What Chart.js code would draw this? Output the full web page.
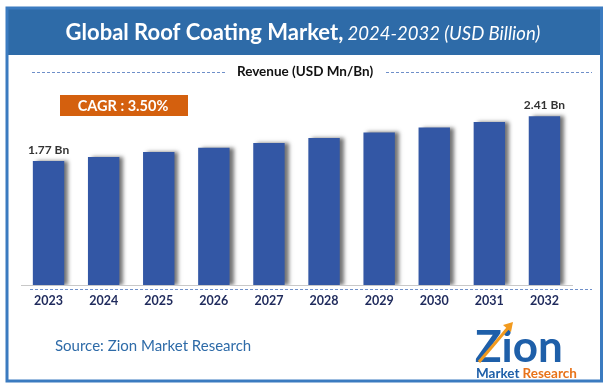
<!DOCTYPE html>
<html>
<head>
<meta charset="utf-8">
<script src="https://cdn.jsdelivr.net/npm/chart.js@4.4.1/dist/chart.umd.min.js"></script>
<style>
  html, body { margin: 0; padding: 0; background: #ffffff; }
  #wrap { width: 610px; height: 391px; position: relative; }
</style>
</head>
<body>
<div id="wrap"><canvas id="myChart" width="610" height="391"></canvas></div>
<script>
var years = ['2023', '2024', '2025', '2026', '2027', '2028', '2029', '2030', '2031', '2032'];
var revenue = [1.77, 1.83, 1.90, 1.96, 2.03, 2.10, 2.18, 2.25, 2.33, 2.41];
var valueLabels = ['1.77 Bn', '', '', '', '', '', '', '', '', '2.41 Bn'];
var titleMain = 'Global Roof Coating Market,';
var titleSub = ' 2024-2032 (USD Billion)';
var cagrText = 'CAGR : 3.50%';
var sourceText = 'Source: Zion Market Research';

var FONT = 'Lato, "Open Sans", sans-serif';

// frame, title bar, subtitle, cagr box, dashed lines, source and logo
var decor = {
    id: 'decor',
    beforeDraw: function (chart) {
        var c = chart.ctx;
        c.save();
        c.fillStyle = '#ffffff';
        c.fillRect(0, 0, chart.width, chart.height);
        // title bar
        c.fillStyle = '#2E6BA8';
        c.fillRect(6, 7, 597, 48);
        c.font = 'bold 22px ' + FONT;
        var w1 = c.measureText(titleMain).width;
        c.font = 'italic 18.5px ' + FONT;
        var w2 = c.measureText(titleSub).width;
        var x0 = 303 - (w1 + w2) / 2;
        c.fillStyle = '#ffffff';
        c.textBaseline = 'middle';
        c.textAlign = 'left';
        c.font = 'bold 22px ' + FONT;
        c.fillText(titleMain, x0, 33);
        c.font = 'italic 18.5px ' + FONT;
        c.fillText(titleSub, x0 + w1, 34);
        // frame
        c.strokeStyle = '#3B7BC0';
        c.lineWidth = 3;
        c.strokeRect(7, 8, 594.5, 373);
        // subtitle with dashed rules
        c.fillStyle = '#111111';
        c.font = 'bold 13.5px ' + FONT;
        c.textAlign = 'center';
        c.fillText('Revenue (USD Mn/Bn)', 305, 72);
        c.strokeStyle = '#6E8FC9';
        c.lineWidth = 1;
        c.setLineDash([3, 2]);
        c.beginPath();
        c.moveTo(32, 72.5); c.lineTo(225, 72.5);
        c.moveTo(386, 72.5); c.lineTo(592, 72.5);
        c.moveTo(30, 289.5); c.lineTo(592, 289.5);
        c.stroke();
        c.setLineDash([]);
        // cagr box
        c.fillStyle = '#D4600E';
        c.fillRect(60, 95, 128, 21);
        c.fillStyle = '#ffffff';
        c.font = 'bold 14.5px ' + FONT;
        c.fillText(cagrText, 123, 106);
        // source
        c.fillStyle = '#2E6BA8';
        c.font = '15px ' + FONT;
        c.textAlign = 'left';
        c.fillText(sourceText, 55, 346);
        // logo
        c.fillStyle = '#1E5FA9';
        c.font = 'bold 44px ' + FONT;
        c.textBaseline = 'alphabetic';
        c.fillText('Zion', 475, 362);
        c.strokeStyle = '#F29A1E';
        c.lineWidth = 3;
        c.beginPath();
        c.moveTo(479, 362); c.lineTo(508, 328);
        c.stroke();
        c.fillStyle = '#F29A1E';
        c.beginPath();
        c.moveTo(503, 325); c.lineTo(513, 322); c.lineTo(511, 332);
        c.fill();
        c.font = 'bold 13.5px ' + FONT;
        c.fillStyle = '#1E5FA9';
        c.fillText('Market', 476, 378);
        var mw = c.measureText('Market').width;
        c.fillStyle = '#E8731A';
        c.fillText('Research', 479 + mw, 378);
        c.restore();
    },
    beforeDatasetsDraw: function (chart) {
        var c = chart.ctx;
        c.save();
        c.shadowColor = 'rgba(0,0,0,0.55)';
        c.shadowBlur = 4;
        c.shadowOffsetX = 4;
        c.shadowOffsetY = 0;
    },
    afterDatasetsDraw: function (chart) {
        var c = chart.ctx;
        c.restore();
        c.save();
        var meta = chart.getDatasetMeta(0);
        c.fillStyle = '#333333';
        c.font = 'bold 12px ' + FONT;
        c.textAlign = 'center';
        c.textBaseline = 'bottom';
        meta.data.forEach(function (bar, i) {
            if (valueLabels[i]) {
                c.fillText(valueLabels[i], bar.x, bar.y - 5);
            }
        });
        c.restore();
    }
};

var ctx = document.getElementById('myChart').getContext('2d');
var myChart = new Chart(ctx, {
    type: 'bar',
    data: {
        labels: years,
        datasets: [{
            label: 'Revenue',
            data: revenue,
            backgroundColor: '#3357A5',
            barPercentage: 0.57,
            categoryPercentage: 1.0
        }]
    },
    options: {
        responsive: false,
        animation: false,
        layout: {
            padding: { left: 21, right: 38, top: 75, bottom: 66 }
        },
        plugins: {
            legend: { display: false },
            tooltip: { enabled: false }
        },
        scales: {
            x: {
                grid: { display: false, drawTicks: false },
                border: { display: true, color: '#C8C8C8', width: 1 },
                ticks: {
                    color: '#1F2A5C',
                    font: { family: FONT, size: 12.5, weight: 'bold' },
                    padding: 8
                },
                afterFit: function (scale) { scale.height = 40; }
            },
            y: {
                display: false,
                min: 0,
                max: 3
            }
        }
    },
    plugins: [decor]
});
</script>
</body>
</html>
